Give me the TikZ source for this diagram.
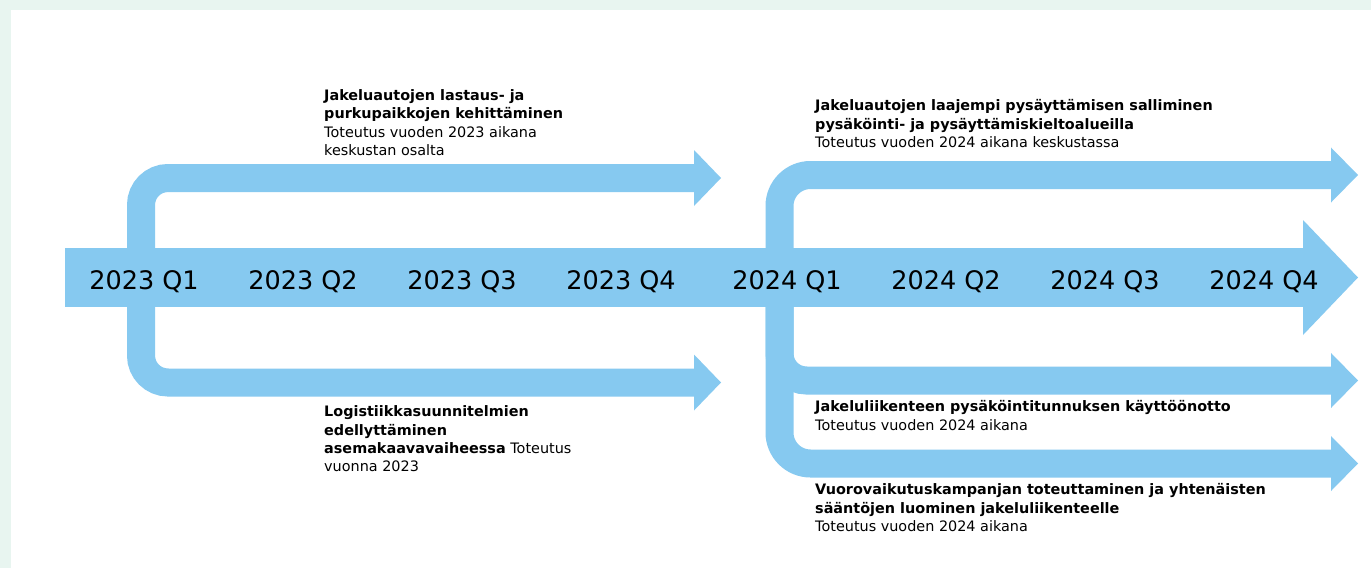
\documentclass[tikz,border=0pt]{standalone}
\usepackage{fontspec}
\setmainfont{DejaVu Sans}
\usetikzlibrary{calc}
\definecolor{bandblue}{HTML}{86C9F0}
\definecolor{mint}{HTML}{E8F5F0}

% arrow head: base point, half height, length
\newcommand{\bandhead}[3]{%
  \fill[bandblue] ($(#1)+(0,-#2)$) -- ($(#1)+(#3,0)$) -- ($(#1)+(0,#2)$) -- cycle;}

\begin{document}
\begin{tikzpicture}[x=1pt, y=-1pt,
  band/.style={draw=bandblue, line width=28pt, rounded corners=27pt},
  quarter/.style={anchor=center, inner sep=0pt, font=\fontsize{25.5}{30}\selectfont},
  task/.style={anchor=north west, align=left, inner sep=0pt, font=\fontsize{14.4}{18.3}\selectfont}]
\useasboundingbox (0,0) rectangle (1371,568);
\fill[mint] (0,0) rectangle (1371,568);
\fill[white] (11,10) rectangle (1371,568);

% main timeline
\coordinate (mainL) at (65,277.5);
\coordinate (mainR) at (1303,277.5);
\fill[bandblue] ($(mainL)+(0,-29.5)$) rectangle ($(mainR)+(0,29.5)$);
\bandhead{mainR}{57.5}{55}

% 2023 branches
\coordinate (l1) at (694,178);
\coordinate (l2) at (694,382.5);
\draw[band] (l1) -- (141,178) -- (141,382.5) -- (l2);
\bandhead{l1}{28}{27}
\bandhead{l2}{28}{27}

% 2024 branches
\coordinate (r0) at (779.5,277.5);
\coordinate (r1) at (1331,175);
\coordinate (r2) at (1331,380.5);
\coordinate (r3) at (1331,463.5);
\draw[band] (r0) |- (r2);
\foreach \r in {r1,r3}{
  \draw[band, rounded corners=31pt] (r0) |- (\r);
}
\foreach \r in {r1,r2,r3}{
  \bandhead{\r}{27.5}{27}
}

% quarters
\foreach \yr/\xs in {2023/144, 2024/787}
  \foreach \q in {1,...,4}
    \node[quarter] (q\yr-\q) at ({\xs+159*(\q-1)},282) {\yr\ Q\q};

% tasks
\node[task] (t1) at (324,89.5) {\textbf{Jakeluautojen lastaus- ja}\\
  \textbf{purkupaikkojen kehittäminen}\\
  Toteutus vuoden 2023 aikana\\
  keskustan osalta};
\node[task] (t2) at (324,405.6) {\textbf{Logistiikkasuunnitelmien}\\
  \textbf{edellyttäminen}\\
  \textbf{asemakaavavaiheessa} Toteutus\\
  vuonna 2023};
\node[task] (t3) at (815,99.6) {\textbf{Jakeluautojen laajempi pysäyttämisen salliminen}\\
  \textbf{pysäköinti- ja pysäyttämiskieltoalueilla}\\
  Toteutus vuoden 2024 aikana keskustassa};
\node[task] (t4) at (815,400.6) {\textbf{Jakeluliikenteen pysäköintitunnuksen käyttöönotto}\\
  Toteutus vuoden 2024 aikana};
\node[task] (t5) at (815,483.6) {\textbf{Vuorovaikutuskampanjan toteuttaminen ja yhtenäisten}\\
  \textbf{sääntöjen luominen jakeluliikenteelle}\\
  Toteutus vuoden 2024 aikana};
\end{tikzpicture}
\end{document}
